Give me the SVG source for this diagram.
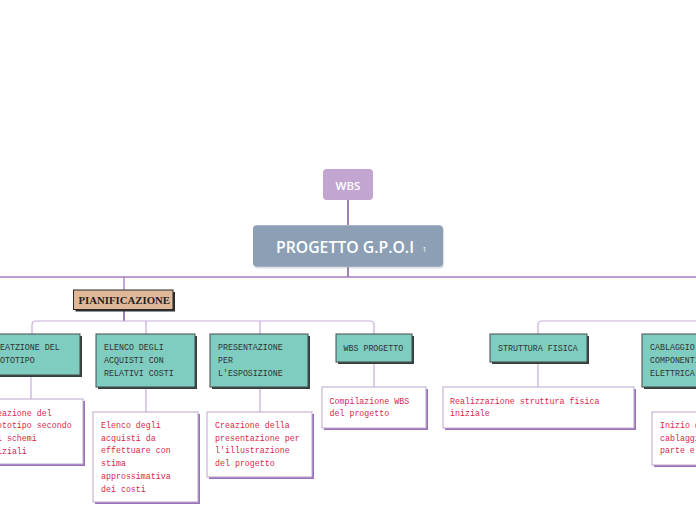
<svg xmlns="http://www.w3.org/2000/svg" width="696" height="520" viewBox="0 0 696 520">
<style>
.teal{fill:#7ecdc0;stroke:#4a4a4a;stroke-width:1}
.tsh{fill:#34403e}
.det{fill:#ffffff;stroke:#bba8cc;stroke-width:1}
.dsh{fill:#9b72ba}
.tt{font-family:"Liberation Mono","DejaVu Sans Mono",monospace;font-size:8.3px;fill:#333333}
.dt{font-family:"Liberation Mono","DejaVu Sans Mono",monospace;font-size:8.3px;fill:#d81f4c}
.dark{fill:none;stroke:#7f56a5;stroke-width:1.5}
.mid{fill:none;stroke:#a27cc0;stroke-width:1.3}
.light{fill:none;stroke:#c8acdc;stroke-width:1.2}
</style>
<rect width="696" height="520" fill="#ffffff"/>
<g id="connectors">
<path class="dark" d="M348,200 V225"/>
<path class="dark" d="M348,267 V277"/>
<path class="mid" d="M0,277 H696"/>
<path class="mid" d="M124,277 V290"/>
<path class="dark" d="M124,310 V321"/>
<path class="light" d="M32,334 V325 Q32,321 36,321 H370 Q374,321 374,325 V334"/>
<path class="light" d="M146,321 V334"/>
<path class="light" d="M260,321 V334"/>
<path class="light" d="M538,334 V325 Q538,321 542,321 H696"/>
<path class="light" d="M31,375 V399"/>
<path class="light" d="M146,387 V412"/>
<path class="light" d="M260,387 V412"/>
<path class="light" d="M374,362 V387"/>
<path class="light" d="M538,362 V387"/>
</g>
<g id="wbs">
<rect x="323" y="169" width="50" height="31" rx="4" fill="#c3a5d2"/>
<text x="348" y="189.5" text-anchor="middle" font-family="'Open Sans','Noto Sans',sans-serif" font-weight="600" font-size="11.5" fill="#ffffff">WBS</text>
</g>
<g id="progetto">
<rect x="254" y="227" width="190" height="41.5" rx="4" fill="#6f7f92" opacity="0.25"/>
<rect x="253" y="225.3" width="190" height="41.5" rx="4" fill="#8c9fb5"/>
<text x="276" y="252.7" font-family="'Open Sans','Noto Sans',sans-serif" font-weight="600" font-size="17" fill="#ffffff" textLength="138" lengthAdjust="spacingAndGlyphs">PROGETTO G.P.O.I</text>
<text x="422.5" y="252" font-family="'Open Sans','Noto Sans',sans-serif" font-size="7" fill="#ffffff">1</text>
</g>
<g id="pianificazione">
<rect x="75.5" y="292" width="99.5" height="19.5" fill="#2e2e2e"/>
<rect x="73.5" y="290" width="99.5" height="19.5" fill="#e0b898" stroke="#2a2a2a" stroke-width="1"/>
<text x="78.5" y="303.5" font-family="'Liberation Serif','DejaVu Serif',serif" font-weight="bold" font-size="10.5" fill="#222222" textLength="91.5" lengthAdjust="spacingAndGlyphs">PIANIFICAZIONE</text>
</g>
<g id="creazione">
<rect class="tsh" x="-16" y="336" width="98" height="41"/>
<rect class="teal" x="-18" y="334" width="98" height="41"/>
<text class="tt" x="-10" y="350">CREATZIONE DEL</text>
<text class="tt" x="-10" y="363">PROTOTIPO</text>
</g>
<g id="creazione-det">
<rect class="dsh" x="-19" y="401" width="104" height="65"/>
<rect class="det" x="-21" y="399" width="104" height="65"/>
<text class="dt" x="-13" y="415.5">Creazione del</text>
<text class="dt" x="-13" y="428.2">prototipo secondo</text>
<text class="dt" x="-13" y="440.9">gli schemi</text>
<text class="dt" x="-13" y="453.6">iniziali</text>
</g>
<g id="elenco">
<rect class="tsh" x="98" y="336" width="99" height="53"/>
<rect class="teal" x="96" y="334" width="99" height="53"/>
<text class="tt" x="104" y="350">ELENCO DEGLI</text>
<text class="tt" x="104" y="363">ACQUISTI CON</text>
<text class="tt" x="104" y="376">RELATIVI COSTI</text>
</g>
<g id="elenco-det">
<rect class="dsh" x="95" y="414" width="105" height="90"/>
<rect class="det" x="93" y="412" width="105" height="90"/>
<text class="dt" x="101" y="428">Elenco degli</text>
<text class="dt" x="101" y="440.7">acquisti da</text>
<text class="dt" x="101" y="453.4">effettuare con</text>
<text class="dt" x="101" y="466.1">stima</text>
<text class="dt" x="101" y="478.8">approssimativa</text>
<text class="dt" x="101" y="491.5">dei costi</text>
</g>
<g id="presentazione">
<rect class="tsh" x="212" y="336" width="98" height="53"/>
<rect class="teal" x="210" y="334" width="98" height="53"/>
<text class="tt" x="218" y="350">PRESENTAZIONE</text>
<text class="tt" x="218" y="363">PER</text>
<text class="tt" x="218" y="376">L'ESPOSIZIONE</text>
</g>
<g id="presentazione-det">
<rect class="dsh" x="209" y="414" width="105" height="65"/>
<rect class="det" x="207" y="412" width="105" height="65"/>
<text class="dt" x="215" y="428">Creazione della</text>
<text class="dt" x="215" y="440.7">presentazione per</text>
<text class="dt" x="215" y="453.4">l'illustrazione</text>
<text class="dt" x="215" y="466.1">del progetto</text>
</g>
<g id="wbs-progetto">
<rect class="tsh" x="338" y="336" width="76" height="28"/>
<rect class="teal" x="336" y="334" width="76" height="28"/>
<text class="tt" x="343.5" y="350.5">WBS PROGETTO</text>
</g>
<g id="wbs-progetto-det">
<rect class="dsh" x="324" y="389" width="104" height="41"/>
<rect class="det" x="322" y="387" width="104" height="41"/>
<text class="dt" x="329.5" y="403.5">Compilazione WBS</text>
<text class="dt" x="329.5" y="416">del progetto</text>
</g>
<g id="struttura">
<rect class="tsh" x="492" y="336" width="97" height="28"/>
<rect class="teal" x="490" y="334" width="97" height="28"/>
<text class="tt" x="498" y="350.5">STRUTTURA FISICA</text>
</g>
<g id="struttura-det">
<rect class="dsh" x="445" y="389" width="191" height="41"/>
<rect class="det" x="443" y="387" width="191" height="41"/>
<text class="dt" x="450" y="403.5">Realizzazione struttura fisica</text>
<text class="dt" x="450" y="416">iniziale</text>
</g>
<g id="cablaggio">
<rect class="tsh" x="644" y="336" width="100" height="53"/>
<rect class="teal" x="642" y="334" width="100" height="53"/>
<text class="tt" x="650" y="350">CABLAGGIO</text>
<text class="tt" x="650" y="363">COMPONENTI</text>
<text class="tt" x="650" y="376">ELETTRICA</text>
</g>
<g id="cablaggio-det">
<rect class="dsh" x="654" y="414" width="104" height="53"/>
<rect class="det" x="652" y="412" width="104" height="53"/>
<text class="dt" x="660" y="428">Inizio del</text>
<text class="dt" x="660" y="440.7">cablaggio della</text>
<text class="dt" x="660" y="453.4">parte elettrica</text>
</g>
</svg>
